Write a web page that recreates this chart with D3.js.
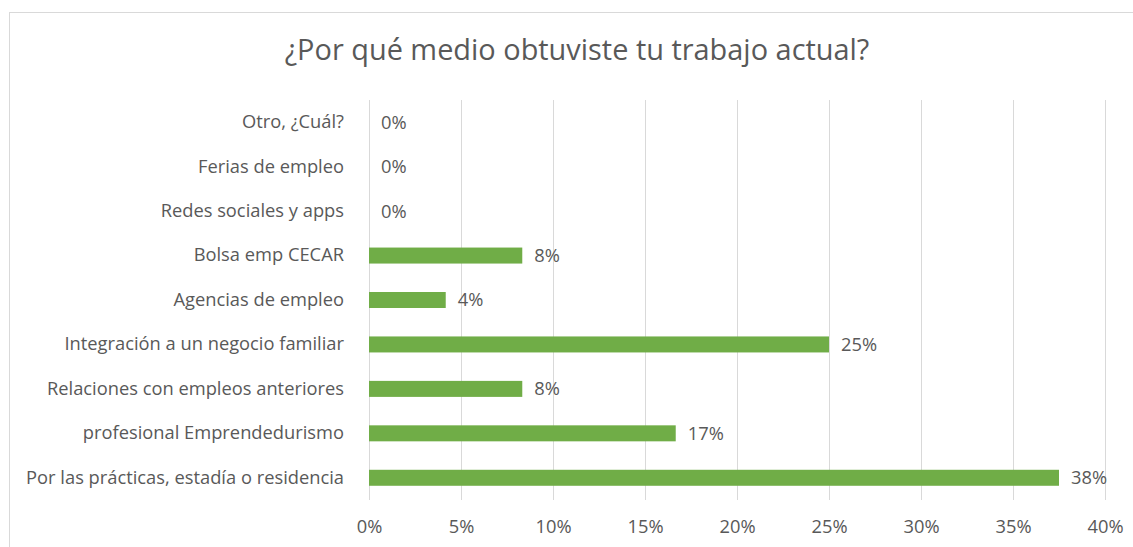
<!DOCTYPE html>
<html><head><meta charset="utf-8">
<script src="https://cdn.jsdelivr.net/npm/d3@7"></script>
<style>body{margin:0;background:#fff;} svg{display:block;}</style>
</head><body>
<svg id="c" width="1133" height="547"></svg>
<script>
const categories = ["Otro, ¿Cuál?","Ferias de empleo","Redes sociales y apps","Bolsa emp CECAR","Agencias de empleo","Integración a un negocio familiar","Relaciones con empleos anteriores","profesional Emprendedurismo","Por las prácticas, estadía o residencia"];
const values = [0,0,0,0.0833,0.0417,0.25,0.0833,0.1667,0.375];
const labels = ["0%","0%","0%","8%","4%","25%","8%","17%","38%"];
const xTicks = [0,0.05,0.1,0.15,0.2,0.25,0.3,0.35,0.4];
const title = "¿Por qué medio obtuviste tu trabajo actual?";

const svg = d3.select("#c");
const font = "'Open Sans', sans-serif";
// fit font size to reference widths
function fitSize(txt, target){
  const t = svg.append("text").attr("font-family",font).attr("font-size",20).text(txt);
  const w = t.node().getComputedTextLength(); t.remove();
  return 20*target/w;
}
const titleSize = fitSize(title, 585);
const labelSize = fitSize(categories[8], 318);

svg.append("rect").attr("x",9.5).attr("y",12.5).attr("width",1140).attr("height",560)
  .attr("fill","#fff").attr("stroke","#d9d9d9").attr("stroke-width",1);

const x = d3.scaleLinear().domain([0,0.4]).range([369,1105]);
const y = d3.scaleBand().domain(categories).range([100,500]).paddingInner(0.64).paddingOuter(0.32);

svg.append("text").attr("x",577).attr("y",50).attr("dy","0.35em").attr("text-anchor","middle")
  .attr("font-family",font).attr("font-size",titleSize).attr("fill","#595959").text(title);

const grid = svg.append("g");
grid.selectAll("line").data(xTicks).join("line")
  .attr("x1",d=>Math.round(x(d))+0.5).attr("x2",d=>Math.round(x(d))+0.5)
  .attr("y1",100).attr("y2",500).attr("stroke","#d9d9d9").attr("stroke-width",1);

const xAxis = svg.append("g").attr("transform","translate(0,500)")
  .call(d3.axisBottom(x).tickValues(xTicks).tickFormat(d3.format(".0%")).tickSize(0).tickPadding(0));
xAxis.select(".domain").remove();
xAxis.selectAll("text").attr("y",27).attr("dy","0.35em").attr("font-family",font).attr("font-size",labelSize).attr("fill","#595959");

const yAxis = svg.append("g").attr("transform","translate(344,0)")
  .call(d3.axisLeft(y).tickSize(0).tickPadding(0));
yAxis.select(".domain").remove();
yAxis.selectAll("text").attr("font-family",font).attr("font-size",labelSize).attr("fill","#595959");

svg.append("g").selectAll("rect").data(values).join("rect")
  .attr("x",x(0)).attr("y",(d,i)=>y(categories[i]))
  .attr("width",d=>x(d)-x(0)).attr("height",y.bandwidth())
  .attr("fill","#70ad47");

svg.append("g").selectAll("text").data(values).join("text")
  .attr("x",d=>x(d)+12).attr("y",(d,i)=>y(categories[i])+y.bandwidth()/2)
  .attr("dy","0.35em").attr("font-family",font).attr("font-size",labelSize).attr("fill","#595959")
  .text((d,i)=>labels[i]);
</script>
</body></html>
